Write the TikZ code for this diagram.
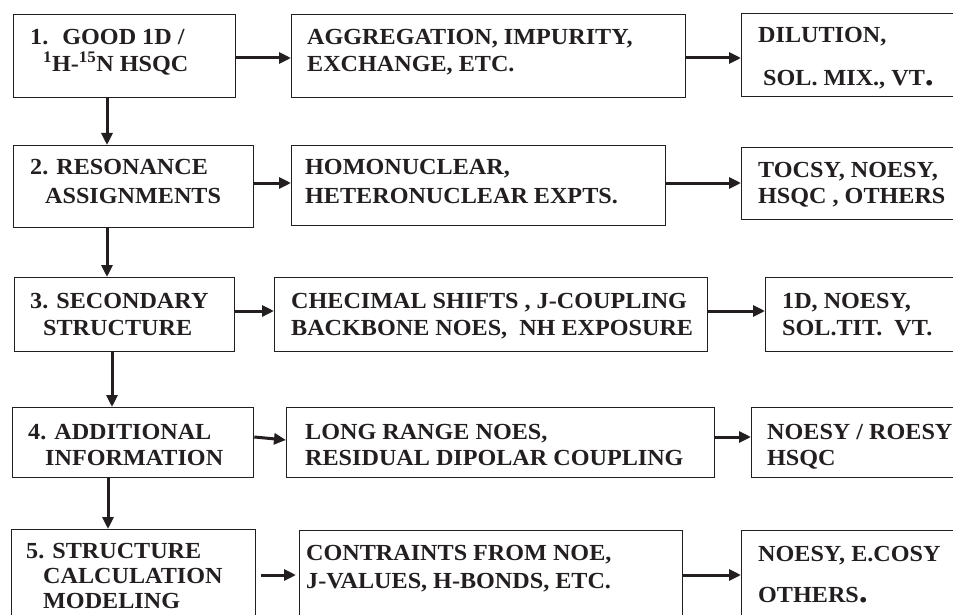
\documentclass[tikz,border=0pt]{standalone}
\usepackage{fontspec}
\setmainfont{Liberation Serif}[FakeStretch=1.05]
\usetikzlibrary{arrows.meta,calc}
\definecolor{ink}{HTML}{231F20}
\newcommand{\bigdot}{{\fontsize{34}{34}\selectfont .}}
\begin{document}
\begin{tikzpicture}[x=1pt,y=-1pt,
  box/.style 2 args={draw=ink,line width=1.3pt,anchor=north west,inner sep=0,minimum width=#1,minimum height=#2},
  txt/.style={anchor=base west,inner sep=0,font=\fontsize{23}{23}\selectfont\bfseries,text=ink},
  arr/.style={draw=ink,line width=3pt,-{Triangle[length=12pt,width=11pt]}}]
\clip (0,0) rectangle (953,615);
\fill[white] (0,0) rectangle (953,615);
% row 1
\node[box={222pt}{83pt}] (b11) at (13,14) {};
\node[box={394pt}{83pt}] (b12) at (291,14) {};
\node[box={230pt}{83pt}] (b13) at (741,13) {};
\node[txt] (t11a) at (30,45) {1.~ GOOD 1D /};
\node[txt] (t11b) at (43,72) {\textsuperscript{1}H-\textsuperscript{15}N HSQC};
\node[txt] (t12a) at (307,45) {AGGREGATION, IMPURITY,};
\node[txt] (t12b) at (307,72) {EXCHANGE, ETC.};
\node[txt] (t13a) at (758,43) {DILUTION,};
\node[txt] (t13b) at (763,86) {SOL. MIX., VT\bigdot};
\draw[arr] ([yshift=-44pt]b11.north east) -- ([yshift=-44pt]b12.north west);
\draw[arr] ([yshift=-44pt]b12.north east) -- ([yshift=-45pt]b13.north west);
% row 2
\node[box={240pt}{82pt}] (b21) at (13,145) {};
\node[box={374pt}{80pt}] (b22) at (291,145) {};
\node[box={230pt}{72pt}] (b23) at (741,147) {};
\node[txt] (t21a) at (30,175) {2. RESONANCE};
\node[txt] (t21b) at (45,203) {ASSIGNMENTS};
\node[txt] (t22a) at (305,175) {HOMONUCLEAR,};
\node[txt] (t22b) at (305,203) {HETERONUCLEAR EXPTS.};
\node[txt] (t23a) at (758,177) {TOCSY, NOESY,};
\node[txt] (t23b) at (758,203) {HSQC , OTHERS};
\draw[arr] ([xshift=94pt]b11.south west) -- ([xshift=94pt]b21.north west);
\draw[arr] ([yshift=-38pt]b21.north east) -- ([yshift=-38pt]b22.north west);
\draw[arr] ([yshift=-38pt]b22.north east) -- ([yshift=-36pt]b23.north west);
% row 3
\node[box={220pt}{74pt}] (b31) at (14,277) {};
\node[box={433pt}{74pt}] (b32) at (274,277) {};
\node[box={200pt}{74pt}] (b33) at (765,277) {};
\node[txt] (t31a) at (30,308) {3. SECONDARY};
\node[txt] (t31b) at (43,335) {STRUCTURE};
\node[txt] (t32a) at (291,308) {CHECIMAL SHIFTS , J-COUPLING};
\node[txt] (t32b) at (291,335) {BACKBONE NOES,~ NH EXPOSURE};
\node[txt] (t33a) at (782,308) {1D, NOESY,};
\node[txt] (t33b) at (782,335) {SOL.TIT.~ VT.};
\draw[arr] ([xshift=94pt]b21.south west) -- ([xshift=93pt]b31.north west);
\draw[arr] ([yshift=-34pt]b31.north east) -- ([yshift=-34pt]b32.north west);
\draw[arr] ([yshift=-34pt]b32.north east) -- ([yshift=-34pt]b33.north west);
% row 4
\node[box={241pt}{70pt}] (b41) at (12,407) {};
\node[box={428pt}{70pt}] (b42) at (286,407) {};
\node[box={220pt}{70pt}] (b43) at (751,407) {};
\node[txt] (t41a) at (28,439) {4. ADDITIONAL};
\node[txt] (t41b) at (45,465) {INFORMATION};
\node[txt] (t42a) at (305,439) {LONG RANGE NOES,};
\node[txt] (t42b) at (305,465) {RESIDUAL DIPOLAR COUPLING};
\node[txt] (t43a) at (767,439) {NOESY / ROESY};
\node[txt] (t43b) at (767,465) {HSQC};
\draw[arr] ([xshift=98pt]b31.south west) -- ([xshift=100pt]b41.north west);
\draw[arr] ([yshift=-30pt]b41.north east) -- ([yshift=-33pt]b42.north west);
\draw[arr] ([yshift=-30pt]b42.north east) -- ([yshift=-30pt]b43.north west);
% row 5
\node[box={244pt}{100pt}] (b51) at (11,529) {};
\node[box={383pt}{100pt}] (b52) at (299,530) {};
\node[box={230pt}{100pt}] (b53) at (741,530) {};
\node[txt] (t51a) at (26,558) {5. STRUCTURE};
\node[txt] (t51b) at (43,583) {CALCULATION};
\node[txt] (t51c) at (43,608) {MODELING};
\node[txt] (t52a) at (306,560) {CONTRAINTS FROM NOE,};
\node[txt] (t52b) at (306,588) {J-VALUES, H-BONDS, ETC.};
\node[txt] (t53a) at (758,561) {NOESY, E.COSY};
\node[txt] (t53b) at (758,602) {OTHERS\bigdot};
\draw[arr] ([xshift=96pt]b41.south west) -- ([xshift=97pt]b51.north west);
\draw[arr,shorten <=5pt,shorten >=3pt] ([yshift=-46pt]b51.north east) -- ([yshift=-45pt]b52.north west);
\draw[arr] ([yshift=-45pt]b52.north east) -- ([yshift=-45pt]b53.north west);
\end{tikzpicture}
\end{document}
